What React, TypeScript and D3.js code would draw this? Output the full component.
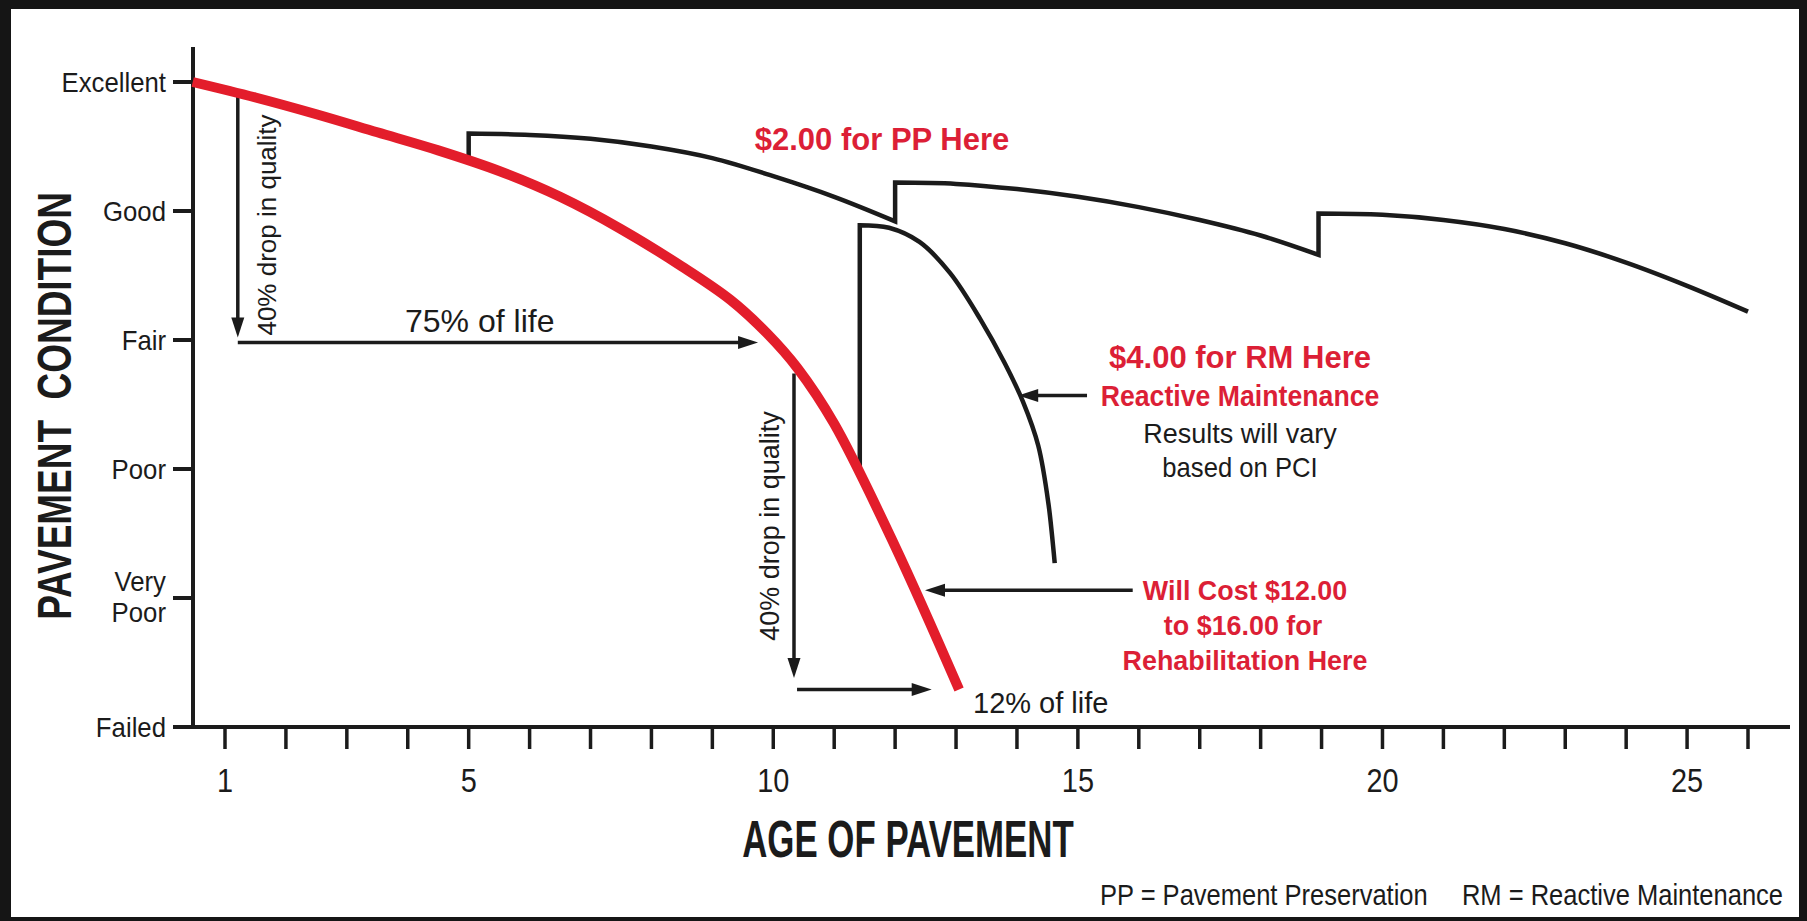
import React from "react";
import * as d3 from "d3";

const W = 1807;
const H = 921;

// pavement condition categories, 0 = Failed ... 5 = Excellent
const conditionLabels = ["Failed", "Very Poor", "Poor", "Fair", "Good", "Excellent"];
const conditionValues = [0, 1, 2, 3, 4, 5];

// age of pavement (years)
const yearTicks = [1, 2, 3, 4, 5, 6, 7, 8, 9, 10, 11, 12, 13, 14, 15, 16, 17, 18, 19, 20, 21, 22, 23, 24, 25, 26];
const yearLabels = [1, 5, 10, 15, 20, 25];

// no treatment: deterioration curve (red)
const noTreatmentAge = [0.47, 1.5, 2.5, 3.5, 4.5, 5.5, 6.5, 7.5, 8.5, 9.3, 9.9, 10.4, 11.0, 12.0, 13.05];
const noTreatmentCond = [5.0, 4.88, 4.75, 4.61, 4.47, 4.31, 4.11, 3.86, 3.57, 3.31, 3.05, 2.78, 2.35, 1.4, 0.29];

// pavement preservation saw-tooth (treatment at 5, 12, 19 years)
const ppAge = [5, 5, 6, 7, 8, 9, 10, 11, 12, 12, 13, 14, 15, 16, 17, 18, 18.95, 18.95, 20, 21, 22, 23, 24, 25, 26];
const ppCond = [4.39, 4.6, 4.59, 4.56, 4.5, 4.41, 4.27, 4.11, 3.92, 4.22, 4.21, 4.17, 4.11, 4.03, 3.93, 3.81, 3.66, 3.98, 3.97, 3.93, 3.86, 3.75, 3.6, 3.42, 3.22];

// reactive maintenance
const rmAge = [11.42, 11.42, 11.9, 12.4, 12.9, 13.4, 13.8, 14.1, 14.35, 14.52, 14.62];
const rmCond = [1.94, 3.89, 3.87, 3.76, 3.52, 3.16, 2.82, 2.52, 2.18, 1.72, 1.27];

// annotation arrows [from, to] in (age, condition)
const arrowAge = [[1.21, 1.21], [1.21, 9.75], [10.34, 10.34], [10.39, 12.6], [15.15, 14.02], [15.9, 12.49]];
const arrowCond = [[4.9, 3.02], [2.98, 2.98], [2.74, 0.38], [0.29, 0.29], [2.57, 2.57], [1.06, 1.06]];

const RED = "#e31d2b";
const RED_TEXT = "#dc1f36";
const INK = "#1b1b1b";
const FONT = "'Liberation Sans', Arial, Helvetica, sans-serif";

const axisX = 193;
const axisTop = 47;

const x = d3.scaleLinear().domain([1, 26]).range([225, 1748]);
const y = d3.scaleLinear().domain([0, 5]).range([727, 82]);

const smooth = d3.line<[number, number]>().curve(d3.curveCatmullRom.alpha(0.5));

// splits a series at repeated ages so the jumps stay vertical
function steppedPath(ages: number[], conds: number[]) {
  const segs: [number, number][][] = [];
  let cur: [number, number][] = [];
  ages.forEach((a, i) => {
    if (i > 0 && a === ages[i - 1]) {
      segs.push(cur);
      cur = [];
    }
    cur.push([x(a), y(conds[i])]);
  });
  segs.push(cur);
  return segs
    .map((s, k) => {
      const d = s.length === 1 ? `M${s[0][0]},${s[0][1]}` : (smooth(s) as string);
      return k === 0 ? d : "L" + d.slice(1);
    })
    .join("");
}

type TProps = {
  x: number;
  y: number;
  size: number;
  sx?: number;
  bold?: boolean;
  fill?: string;
  anchor?: "start" | "middle" | "end";
  rotate?: number;
  children: React.ReactNode;
};

const CText = ({ x, y, size, sx = 1, bold, fill = INK, anchor = "start", rotate = 0, children }: TProps) => (
  <text
    transform={`translate(${x},${y}) rotate(${rotate}) scale(${sx},1)`}
    fontSize={size}
    fontWeight={bold ? 700 : 400}
    fill={fill}
    textAnchor={anchor}
    fontFamily={FONT}
    style={{ whiteSpace: "pre" }}
  >
    {children}
  </text>
);

const Arrow = ({ x1, y1, x2, y2 }: { x1: number; y1: number; x2: number; y2: number }) => {
  const dx = x2 - x1;
  const dy = y2 - y1;
  const len = Math.hypot(dx, dy);
  const ux = dx / len;
  const uy = dy / len;
  const hl = 20;
  const hw = 6.5;
  const bx = x2 - ux * hl;
  const by = y2 - uy * hl;
  const pts = `${x2},${y2} ${bx - uy * hw},${by + ux * hw} ${bx + uy * hw},${by - ux * hw}`;
  return (
    <g>
      <line x1={x1} y1={y1} x2={bx + ux * 2} y2={by + uy * 2} stroke={INK} strokeWidth={3.5} />
      <polygon points={pts} fill={INK} />
    </g>
  );
};

export default function App() {
  const redPath = smooth(noTreatmentAge.map((a, i) => [x(a), y(noTreatmentCond[i])] as [number, number])) as string;
  const ppPath = steppedPath(ppAge, ppCond);
  const rmPath = steppedPath(rmAge, rmCond);

  return (
    <div style={{ position: "absolute", left: 0, top: 0 }}>
      <svg width={W} height={H} style={{ display: "block" }}>
        {/* frame */}
        <rect width={W} height={H} fill="#151515" />
        <rect x={11} y={9} width={1788} height={908} fill="#ffffff" />

        {/* y axis */}
        <line x1={axisX} x2={axisX} y1={axisTop} y2={y(0) + 2} stroke={INK} strokeWidth={4} />
        {conditionValues.map((v, i) => {
          const lines = conditionLabels[i].split(" ");
          const yy = y(v);
          return (
            <g key={v}>
              <line x1={axisX - 20} x2={axisX} y1={yy} y2={yy} stroke={INK} strokeWidth={4} />
              {lines.length === 1 ? (
                <CText x={axisX - 27} y={yy + 10} size={28} sx={0.92} anchor="end">
                  {lines[0]}
                </CText>
              ) : (
                lines.map((t, k) => (
                  <CText key={t} x={axisX - 27} y={yy - 7 + k * 31} size={28} sx={0.92} anchor="end">
                    {t}
                  </CText>
                ))
              )}
            </g>
          );
        })}

        {/* x axis */}
        <line x1={axisX - 20} x2={1790} y1={y(0)} y2={y(0)} stroke={INK} strokeWidth={4} />
        {yearTicks.map((t) => (
          <line key={t} x1={x(t)} x2={x(t)} y1={y(0)} y2={y(0) + 22} stroke={INK} strokeWidth={3.5} />
        ))}
        {yearLabels.map((t) => (
          <CText key={t} x={x(t)} y={792} size={34} sx={0.85} anchor="middle">
            {t}
          </CText>
        ))}

        {/* axis titles */}
        <CText x={71} y={406} size={48} sx={0.77} bold anchor="middle" rotate={-90}>
          {"PAVEMENT  CONDITION"}
        </CText>
        <CText x={908} y={857} size={52} sx={0.67} bold anchor="middle">
          AGE OF PAVEMENT
        </CText>

        {/* treatment curves */}
        <path d={ppPath} fill="none" stroke={INK} strokeWidth={4.5} strokeLinejoin="miter" />
        <path d={rmPath} fill="none" stroke={INK} strokeWidth={4.5} strokeLinejoin="miter" />

        {/* annotation arrows */}
        {arrowAge.map((a, i) => (
          <Arrow key={i} x1={x(a[0])} y1={y(arrowCond[i][0])} x2={x(a[1])} y2={y(arrowCond[i][1])} />
        ))}

        {/* no treatment curve */}
        <path d={redPath} fill="none" stroke={RED} strokeWidth={10} strokeLinecap="butt" />

        {/* annotation text */}
        <CText x={276} y={225} size={26} anchor="middle" rotate={-90}>
          40% drop in quality
        </CText>
        <CText x={779} y={526} size={27} anchor="middle" rotate={-90}>
          40% drop in quality
        </CText>
        <CText x={405} y={332} size={32}>
          75% of life
        </CText>
        <CText x={973} y={713} size={29}>
          12% of life
        </CText>

        <CText x={882} y={150} size={31} bold fill={RED_TEXT} anchor="middle">
          $2.00 for PP Here
        </CText>

        <CText x={1240} y={368} size={31} bold fill={RED_TEXT} anchor="middle">
          $4.00 for RM Here
        </CText>
        <CText x={1240} y={406} size={29} sx={0.92} bold fill={RED_TEXT} anchor="middle">
          Reactive Maintenance
        </CText>
        <CText x={1240} y={443} size={27} anchor="middle">
          Results will vary
        </CText>
        <CText x={1240} y={477} size={27} sx={0.95} anchor="middle">
          based on PCI
        </CText>

        <CText x={1245} y={600} size={28} sx={0.96} bold fill={RED_TEXT} anchor="middle">
          Will Cost $12.00
        </CText>
        <CText x={1243} y={635} size={28} sx={0.96} bold fill={RED_TEXT} anchor="middle">
          to $16.00 for
        </CText>
        <CText x={1245} y={670} size={28} sx={0.96} bold fill={RED_TEXT} anchor="middle">
          Rehabilitation Here
        </CText>

        {/* footnote */}
        <CText x={1100} y={905} size={29} sx={0.88}>
          PP = Pavement Preservation
        </CText>
        <CText x={1783} y={905} size={29} sx={0.88} anchor="end">
          RM = Reactive Maintenance
        </CText>
      </svg>
    </div>
  );
}
